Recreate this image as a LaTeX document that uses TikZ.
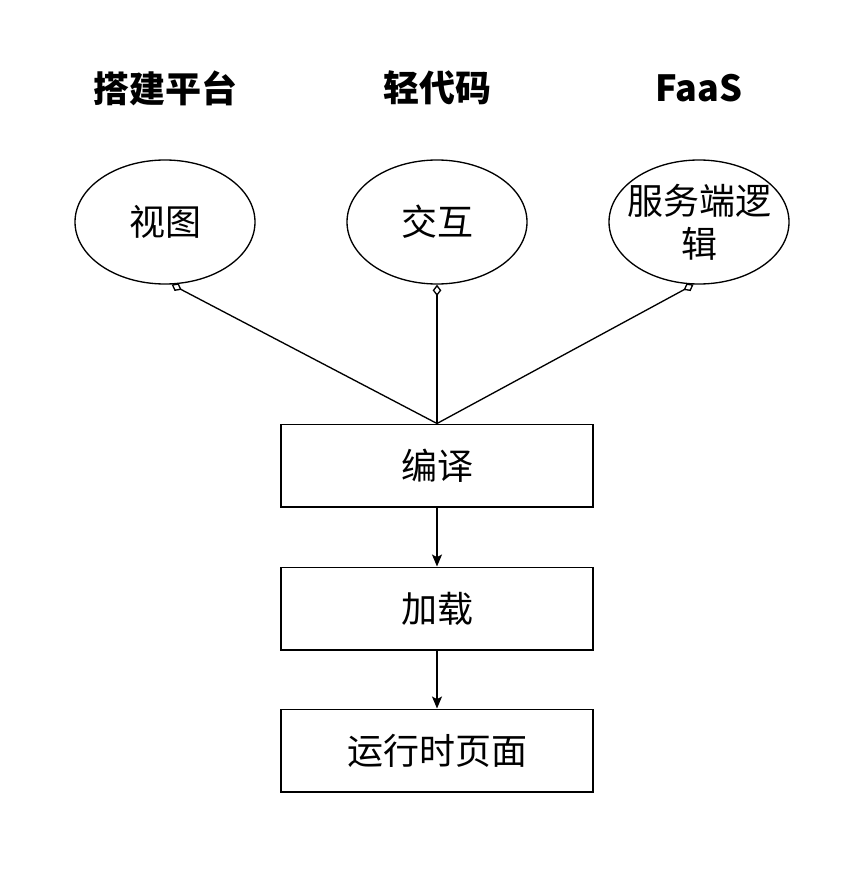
\documentclass[tikz,border=0pt]{standalone}
\usepackage{fontspec}
\setmainfont{Noto Sans CJK SC}
\usetikzlibrary{arrows.meta,shapes.geometric}
\begin{document}
\begin{tikzpicture}[x=0.75pt,y=-0.75pt,line width=1pt,font=\fontsize{27pt}{34pt}\selectfont]
	\useasboundingbox (0,0) rectangle (848,888);
	
    % 标题
    \node [font=\fontsize{27pt}{34pt}\selectfont\bfseries] (t1) at (165,88) {搭建平台};
    \node [font=\fontsize{27pt}{34pt}\selectfont\bfseries] (t2) at (437,88) {轻代码};
    \node [font=\fontsize{27pt}{34pt}\selectfont\bfseries] (t3) at (699,88) {FaaS};
    
    % 椭圆
    \node [draw,ellipse,minimum width=135pt,minimum height=93pt,inner sep=0pt] (shitu) at (165,222) {视图};
    \node [draw,ellipse,minimum width=135pt,minimum height=93pt,inner sep=0pt] (jiaohu) at (437,222) {交互};
    \node [draw,ellipse,minimum width=135pt,minimum height=93pt,inner sep=0pt,label={[align=center,font=\fontsize{27pt}{32pt}\selectfont]center:服务端逻\\辑}] (fuwu) at (699,222) {};
    
    % 矩形
    \node [draw,rectangle,minimum width=234pt,minimum height=62pt] (bianyi) at (437,465.5) {编译};
    \node [draw,rectangle,minimum width=234pt,minimum height=62pt] (jiazai) at (437,608.5) {加载};
    \node [draw,rectangle,minimum width=234pt,minimum height=62pt] (yemian) at (437,750.5) {运行时页面};
    
    % 连线
    \draw [{Diamond[open,length=8.5pt,width=6.5pt]}-] (shitu.-84) -- (bianyi.north);
    \draw [{Diamond[open,length=8.5pt,width=6.5pt]}-] (jiaohu.south) -- (bianyi.north);
    \draw [{Diamond[open,length=8.5pt,width=6.5pt]}-] (fuwu.-95) -- (bianyi.north);
    \draw [-{Stealth[length=9pt,width=7.5pt,inset=2pt]}] (bianyi) -- (jiazai);
    \draw [-{Stealth[length=9pt,width=7.5pt,inset=2pt]}] (jiazai) -- (yemian);
    
\end{tikzpicture}
\end{document}
